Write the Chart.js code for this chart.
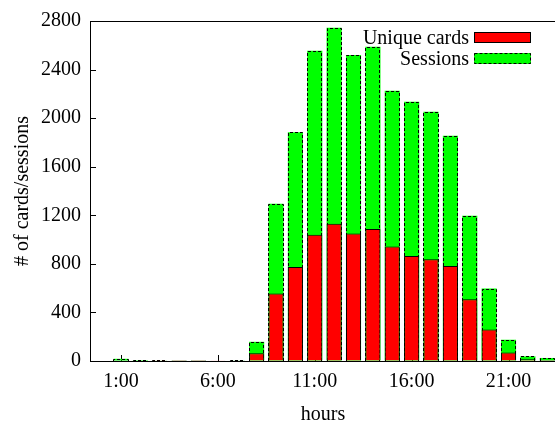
<!DOCTYPE html>
<html>
<head>
<meta charset="utf-8">
<title>Cards and sessions per hour</title>
<script src="https://cdn.jsdelivr.net/npm/chart.js@4/dist/chart.umd.min.js"></script>
<style>
  html, body { margin: 0; padding: 0; overflow: hidden; background: #fff; }
  canvas { display: block; }
</style>
</head>
<body>
<canvas id="chart" width="560" height="425"></canvas>
<script>
// Hour of day for each bar
const hours = [1, 2, 3, 4, 5, 6, 7, 8, 9, 10, 11, 12, 13, 14, 15, 16, 17, 18, 19, 20, 21, 22, 23];
// Distinct cards seen in each hour
const uniqueCards = [6, 4, 2, 1, 1, 2, 3, 63, 556, 774, 1040, 1131, 1049, 1087, 942, 865, 837, 783, 509, 260, 71, 14, 8];
// Sessions opened in each hour
const sessions = [18, 8, 5, 3, 3, 4, 5, 158, 1295, 1883, 2554, 2745, 2521, 2587, 2225, 2135, 2053, 1856, 1196, 597, 175, 38, 25];

// Axis ticks
const xTickHours = [1, 6, 11, 16, 21];
const xTickLabels = ['1:00', '6:00', '11:00', '16:00', '21:00'];
const yTickValues = [0, 400, 800, 1200, 1600, 2000, 2400, 2800];

const FAMILY = "'Liberation Serif', 'Times New Roman', serif";
const INK = '#000';
const TICK_IN = 6;

// Tick marks pointing into the plot; drawn before the bars so the bars hide them
const innerTicks = {
  id: 'innerTicks',
  beforeDatasetsDraw(chart) {
    const ctx = chart.ctx;
    const a = chart.chartArea;
    const xs = chart.scales.x;
    const ys = chart.scales.y;
    ctx.save();
    ctx.strokeStyle = INK;
    ctx.lineWidth = 1;
    ctx.beginPath();
    xs.ticks.forEach(t => {
      const px = Math.round(xs.getPixelForValue(t.value)) + 0.5;
      ctx.moveTo(px, Math.round(a.bottom));
      ctx.lineTo(px, Math.round(a.bottom) - TICK_IN);
    });
    ys.ticks.forEach(t => {
      const py = Math.round(ys.getPixelForValue(t.value)) + 0.5;
      ctx.moveTo(Math.round(a.left), py);
      ctx.lineTo(Math.round(a.left) + TICK_IN, py);
    });
    ctx.stroke();
    ctx.restore();
  }
};

// Dashed outline around bars of datasets that ask for one (Chart.js bars only draw solid borders)
const dashedOutline = {
  id: 'dashedOutline',
  afterDatasetDraw(chart, args) {
    const ds = chart.data.datasets[args.index];
    if (!ds.borderDash) return;
    const ctx = chart.ctx;
    const a = chart.chartArea;
    ctx.save();
    ctx.beginPath();
    ctx.rect(a.left, a.top, a.right - a.left, a.bottom - a.top);
    ctx.clip();
    ctx.strokeStyle = INK;
    ctx.lineWidth = 1;
    ctx.setLineDash(ds.borderDash);
    args.meta.data.forEach(el => {
      const { x, y, base, width } = el.getProps(['x', 'y', 'base', 'width'], true);
      const l = Math.round(x - width / 2) + 0.5;
      const r = Math.round(x + width / 2) - 0.5;
      const t = Math.round(y) + 0.5;
      const b = Math.round(base);
      ctx.beginPath();
      ctx.moveTo(l, b);
      ctx.lineTo(l, t);
      ctx.lineTo(r, t);
      ctx.lineTo(r, b);
      ctx.stroke();
    });
    ctx.restore();
  }
};

// Top and right edges of the plot frame
const frame = {
  id: 'frame',
  afterDatasetsDraw(chart) {
    const ctx = chart.ctx;
    const a = chart.chartArea;
    ctx.save();
    ctx.strokeStyle = INK;
    ctx.lineWidth = 1;
    ctx.beginPath();
    ctx.moveTo(Math.round(a.left), Math.round(a.top) + 0.5);
    ctx.lineTo(Math.round(a.right) + 0.5, Math.round(a.top) + 0.5);
    ctx.lineTo(Math.round(a.right) + 0.5, Math.round(a.bottom));
    ctx.stroke();
    ctx.restore();
  }
};

// Key in the upper right corner of the plot: label text, then the swatch
const insideKey = {
  id: 'insideKey',
  afterDraw(chart) {
    const ctx = chart.ctx;
    const a = chart.chartArea;
    const swRight = Math.round(a.right) - 25;
    const swWidth = 57;
    const swHeight = 11;
    ctx.save();
    ctx.font = '20px ' + FAMILY;
    ctx.textAlign = 'right';
    ctx.textBaseline = 'alphabetic';
    chart.data.datasets.forEach((ds, i) => {
      const baseline = a.top + 22.7 + i * 21.7;
      ctx.fillStyle = INK;
      ctx.fillText(ds.label, swRight - swWidth - 5, baseline);
      const top = Math.round(baseline - 12);
      const left = swRight - swWidth;
      ctx.fillStyle = ds.backgroundColor;
      ctx.fillRect(left, top, swWidth, swHeight);
      ctx.strokeStyle = INK;
      ctx.lineWidth = 1;
      ctx.setLineDash(ds.borderDash || []);
      ctx.strokeRect(left + 0.5, top + 0.5, swWidth - 1, swHeight - 1);
    });
    ctx.restore();
  }
};

const tickFont = { family: FAMILY, size: 20 };

new Chart(document.getElementById('chart'), {
  type: 'bar',
  data: {
    datasets: [
      {
        label: 'Unique cards',
        data: hours.map((h, i) => ({ x: h, y: uniqueCards[i] })),
        backgroundColor: '#ff0000',
        borderColor: INK,
        borderWidth: 1,
        grouped: false,
        categoryPercentage: 1,
        barPercentage: 0.78
      },
      {
        label: 'Sessions',
        data: hours.map((h, i) => ({ x: h, y: sessions[i] })),
        backgroundColor: '#00ff00',
        borderWidth: 0,
        borderDash: [3, 2],
        grouped: false,
        categoryPercentage: 1,
        barPercentage: 0.78
      }
    ]
  },
  options: {
    responsive: false,
    animation: false,
    devicePixelRatio: 1,
    layout: { padding: { left: 0, right: 4, top: 19, bottom: 0 } },
    plugins: {
      legend: { display: false },
      tooltip: { enabled: false }
    },
    scales: {
      x: {
        type: 'linear',
        min: -0.6,
        max: 23.45,
        offset: false,
        afterBuildTicks: s => { s.ticks = xTickHours.map(v => ({ value: v })); },
        afterFit: s => { s.height = 64; },
        ticks: {
          font: tickFont,
          color: INK,
          padding: 9,
          maxRotation: 0,
          autoSkip: false,
          callback: v => xTickLabels[xTickHours.indexOf(v)]
        },
        grid: { drawOnChartArea: false, drawTicks: false, offset: false },
        border: { color: INK, width: 1 },
        title: {
          display: true,
          text: 'hours',
          color: INK,
          font: { family: FAMILY, size: 20, lineHeight: 1 },
          padding: { top: 0, bottom: 0 }
        }
      },
      y: {
        min: 0,
        max: 2800,
        afterBuildTicks: s => { s.ticks = yTickValues.map(v => ({ value: v })); },
        afterFit: s => { s.width = 90; },
        ticks: { font: tickFont, color: INK, padding: 9, callback: v => String(v) },
        grid: { drawOnChartArea: false, drawTicks: false },
        border: { color: INK, width: 1 },
        title: {
          display: true,
          text: '# of cards/sessions',
          color: INK,
          font: { family: FAMILY, size: 20, lineHeight: 1 },
          padding: { top: 13, bottom: 0 }
        }
      }
    }
  },
  plugins: [innerTicks, dashedOutline, frame, insideKey]
});
</script>
</body>
</html>
